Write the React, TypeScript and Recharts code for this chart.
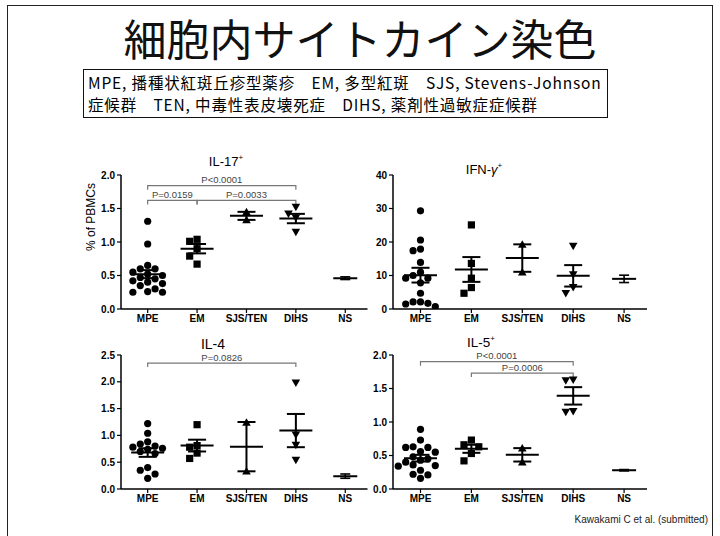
import React from 'react'
import { ScatterChart, Scatter, XAxis, YAxis, ErrorBar, ReferenceLine } from 'recharts'

const categories = ['MPE', 'EM', 'SJS/TEN', 'DIHS', 'NS']

// IL-17+ (% of PBMCs)
const il17MPE = [1.31, 0.97, 0.65, 0.6, 0.6, 0.55, 0.52, 0.5, 0.47, 0.45, 0.42, 0.4, 0.38, 0.35, 0.3, 0.26, 0.25, 0.25]
const il17EM = [1.04, 1.01, 0.9, 0.79, 0.67]
const il17SJS = [1.45, 1.33]
const il17DIHS = [1.52, 1.42, 1.36, 1.15]
const il17Mean = [0.52, 0.9, 1.39, 1.35, 0.46]
const il17Sem = [0.06, 0.07, 0.06, 0.07, 0.02]

// IFN-gamma+
const ifnMPE = [29.3, 20.6, 17.9, 17.4, 13.9, 11.0, 10.0, 9.2, 9.2, 7.8, 4.7, 2.1, 2.1, 1.7, 1.5, 0.7]
const ifnEM = [25.1, 13.6, 9.2, 6.4, 4.7]
const ifnSJS = [19.3, 11.0]
const ifnDIHS = [18.8, 10.3, 6.5, 4.7]
const ifnMean = [10.1, 11.8, 15.2, 9.9, 9.0]
const ifnSem = [2.2, 3.7, 4.1, 3.2, 1.1]

// IL-4
const il4MPE = [1.22, 1.04, 0.88, 0.84, 0.8, 0.78, 0.76, 0.74, 0.7, 0.66, 0.4, 0.35, 0.28, 0.2]
const il4EM = [1.2, 0.81, 0.78, 0.67, 0.57]
const il4SJS = [1.24, 0.33]
const il4DIHS = [1.98, 1.01, 0.82, 0.54]
const il4Mean = [0.68, 0.81, 0.79, 1.09, 0.24]
const il4Sem = [0.08, 0.11, 0.46, 0.31, 0.04]

// IL-5+
const il5MPE = [0.89, 0.73, 0.63, 0.62, 0.62, 0.56, 0.55, 0.48, 0.45, 0.43, 0.4, 0.36, 0.35, 0.34, 0.28, 0.22, 0.21, 0.16]
const il5EM = [0.73, 0.66, 0.63, 0.53, 0.42]
const il5SJS = [0.61, 0.4]
const il5DIHS = [1.63, 1.62, 1.16, 1.15]
const il5Mean = [0.46, 0.6, 0.51, 1.39, 0.28]
const il5Sem = [0.05, 0.06, 0.1, 0.13, 0.01]

const il17Brackets = [
  { from: 0, to: 3, y: 1.84, label: 'P<0.0001' },
  { from: 0, to: 1, y: 1.62, label: 'P=0.0159' },
  { from: 1, to: 3, y: 1.62, label: 'P=0.0033' },
]
const il4Brackets = [{ from: 0, to: 3, y: 2.35, label: 'P=0.0826' }]
const il5Brackets = [
  { from: 0, to: 3, y: 1.9, label: 'P<0.0001' },
  { from: 1, to: 3, y: 1.73, label: 'P=0.0006' },
]

const fracTicks2 = [0, 0.5, 1, 1.5, 2]
const fracTicks25 = [0, 0.5, 1, 1.5, 2, 2.5]
const ifnTicks = [0, 10, 20, 30, 40]

const ARIAL = '"Liberation Sans", Arial, sans-serif'
const JP = '"Noto Sans CJK JP", sans-serif'
const X_DOMAIN: [number, number] = [-0.54, 4.45]
const PLOT_H = 134

// simple Prism-like column scatter: spread points sideways when they would overlap
function swarm(values: number[], group: number, pxX: number, pxY: number, step = 7.4) {
  const placed: { dx: number; py: number }[] = []
  const out: { x: number; y: number }[] = []
  const sorted = [...values].sort((a, b) => b - a)
  for (const v of sorted) {
    const py = v * pxY
    for (let k = 0; k < 14; k++) {
      const slot = k === 0 ? 0 : (k % 2 ? -1 : 1) * Math.ceil(k / 2)
      const dx = slot * step
      if (placed.every((p) => Math.hypot(p.dx - dx, p.py - py) >= step)) {
        placed.push({ dx, py })
        out.push({ x: group + dx / pxX, y: v })
        break
      }
    }
  }
  return out
}

const Dot = (p: any) => <circle cx={p.cx} cy={p.cy} r={3.6} fill="#000" />
const Sq = (p: any) => <rect x={p.cx - 3.6} y={p.cy - 3.6} width={7.2} height={7.2} fill="#000" />
const TriUp = (p: any) => (
  <path d={`M${p.cx},${p.cy - 4.2}L${p.cx + 4.3},${p.cy + 3.3}L${p.cx - 4.3},${p.cy + 3.3}Z`} fill="#000" />
)
const TriDown = (p: any) => (
  <path d={`M${p.cx},${p.cy + 4.2}L${p.cx + 4.3},${p.cy - 3.3}L${p.cx - 4.3},${p.cy - 3.3}Z`} fill="#000" />
)
const shapes = [Dot, Sq, TriUp, TriDown]

const MeanLine = (p: any) => {
  const hw = p.payload.x === 4 ? 12 : 16.5
  return <line x1={p.cx - hw} x2={p.cx + hw} y1={p.cy} y2={p.cy} stroke="#000" strokeWidth={2} />
}

function bracketShape(label: string) {
  return (p: any) => {
    const { x1, x2, y1 } = p
    return (
      <g>
        <path d={`M${x1},${y1 + 4}V${y1}H${x2}V${y1 + 4}`} fill="none" stroke="#777" strokeWidth={1.2} />
        <text x={(x1 + x2) / 2} y={y1 - 2.5} textAnchor="middle" fontSize={9.5} fill="#444" fontFamily={ARIAL}>
          {label}
        </text>
      </g>
    )
  }
}

interface PanelProps {
  left: number
  top: number
  plotW: number
  groups: number[][]
  means: number[]
  sems: number[]
  yMax: number
  yTicks: number[]
  yFmt: (v: number) => string
  brackets?: { from: number; to: number; y: number; label: string }[]
}

function Panel({ left, top, plotW, groups, means, sems, yMax, yTicks, yFmt, brackets = [] }: PanelProps) {
  const pxX = plotW / (X_DOMAIN[1] - X_DOMAIN[0])
  const pxY = PLOT_H / yMax
  const summary = means.map((m, i) => ({ x: i, y: m, err: sems[i] }))
  const tickStyle = { fill: '#000', fontSize: 10, fontWeight: 'bold', fontFamily: ARIAL }
  return (
    <div style={{ position: 'absolute', left: left - 45, top: top - 20 }}>
      <ScatterChart width={45 + plotW + 10} height={20 + PLOT_H + 30} margin={{ top: 20, right: 10, bottom: 0, left: 5 }}>
        <XAxis
          type="number"
          dataKey="x"
          domain={X_DOMAIN}
          allowDataOverflow
          ticks={[0, 1, 2, 3, 4]}
          tickFormatter={(v: number) => categories[v]}
          height={30}
          tickSize={4}
          tickMargin={2}
          tick={tickStyle}
          axisLine={{ stroke: '#000', strokeWidth: 1.5 }}
          tickLine={{ stroke: '#000', strokeWidth: 1.2 }}
          interval={0}
        />
        <YAxis
          type="number"
          dataKey="y"
          domain={[0, yMax]}
          allowDataOverflow
          ticks={yTicks}
          tickFormatter={yFmt}
          width={40}
          tickSize={4}
          tickMargin={2}
          tick={tickStyle}
          axisLine={{ stroke: '#000', strokeWidth: 1.5 }}
          tickLine={{ stroke: '#000', strokeWidth: 1.2 }}
          interval={0}
        />
        {brackets.map((b) => (
          <ReferenceLine
            key={b.label + b.from}
            segment={[{ x: b.from, y: b.y }, { x: b.to, y: b.y }]}
            shape={bracketShape(b.label)}
          />
        ))}
        {groups.map((g, i) => (
          <Scatter key={i} data={swarm(g, i, pxX, pxY)} shape={shapes[i]} isAnimationActive={false} />
        ))}
        <Scatter data={summary.slice(0, 4)} shape={MeanLine} isAnimationActive={false}>
          <ErrorBar dataKey="err" direction="y" width={9} stroke="#000" strokeWidth={2} />
        </Scatter>
        <Scatter data={summary.slice(4)} shape={MeanLine} isAnimationActive={false}>
          <ErrorBar dataKey="err" direction="y" width={5} stroke="#000" strokeWidth={1.6} />
        </Scatter>
      </ScatterChart>
    </div>
  )
}

const frac = (v: number) => v.toFixed(1)
const whole = (v: number) => String(v)

function Title({ x, y, children, size = 13 }: { x: number; y: number; children: React.ReactNode; size?: number }) {
  return (
    <div
      style={{
        position: 'absolute',
        left: x - 60,
        top: y - 8,
        width: 120,
        textAlign: 'center',
        fontSize: size,
        lineHeight: '16px',
        fontFamily: ARIAL,
        color: '#000',
      }}
    >
      {children}
    </div>
  )
}

const sup = { fontSize: 8, verticalAlign: 6 as any }

export default function App() {
  return (
    <div style={{ position: 'absolute', left: 0, top: 0, width: 720, height: 536, overflow: 'hidden', background: '#fff' }}>
      <div style={{ position: 'absolute', left: 7, top: 5, width: 704, height: 600, border: '1.5px solid #222' }} />
      <div
        style={{
          position: 'absolute',
          left: 0,
          top: 16,
          width: 720,
          textAlign: 'center',
          fontFamily: JP,
          fontSize: 43,
          lineHeight: '43px',
          color: '#111',
        }}
      >
        細胞内サイトカイン染色
      </div>
      <div
        style={{
          position: 'absolute',
          left: 83,
          top: 69,
          width: 525,
          height: 49,
          border: '1.5px solid #111',
          fontFamily: JP,
          fontSize: 15.5,
          lineHeight: '22px',
          letterSpacing: 0.85,
          padding: '1px 0 0 4px',
          boxSizing: 'border-box',
          whiteSpace: 'pre',
          color: '#000',
        }}
      >
        <div>MPE, 播種状紅斑丘疹型薬疹　EM, 多型紅斑　SJS, Stevens-Johnson</div>
        <div>症候群　TEN, 中毒性表皮壊死症　DIHS, 薬剤性過敏症症候群</div>
      </div>

      <Title x={226} y={158}>
        IL-17<span style={sup}>+</span>
      </Title>
      <Title x={484} y={166}>
        IFN-<i>γ</i>
        <span style={sup}>+</span>
      </Title>
      <Title x={213} y={344} size={14}>
        IL-4
      </Title>
      <Title x={481} y={339} size={13.5}>
        IL-5<span style={sup}>+</span>
      </Title>

      <div
        style={{
          position: 'absolute',
          left: 91 - 50,
          top: 217 - 8,
          width: 100,
          height: 16,
          lineHeight: '16px',
          textAlign: 'center',
          fontSize: 12,
          fontFamily: ARIAL,
          transform: 'rotate(-90deg)',
        }}
      >
        % of PBMCs
      </div>

      <Panel
        left={121}
        top={175}
        plotW={246.5}
        groups={[il17MPE, il17EM, il17SJS, il17DIHS]}
        means={il17Mean}
        sems={il17Sem}
        yMax={2}
        yTicks={fracTicks2}
        yFmt={frac}
        brackets={il17Brackets}
      />
      <Panel
        left={393}
        top={175}
        plotW={254}
        groups={[ifnMPE, ifnEM, ifnSJS, ifnDIHS]}
        means={ifnMean}
        sems={ifnSem}
        yMax={40}
        yTicks={ifnTicks}
        yFmt={whole}
      />
      <Panel
        left={121}
        top={355}
        plotW={246.5}
        groups={[il4MPE, il4EM, il4SJS, il4DIHS]}
        means={il4Mean}
        sems={il4Sem}
        yMax={2.5}
        yTicks={fracTicks25}
        yFmt={frac}
        brackets={il4Brackets}
      />
      <Panel
        left={393}
        top={355}
        plotW={254}
        groups={[il5MPE, il5EM, il5SJS, il5DIHS]}
        means={il5Mean}
        sems={il5Sem}
        yMax={2}
        yTicks={fracTicks2}
        yFmt={frac}
        brackets={il5Brackets}
      />

      <div
        style={{
          position: 'absolute',
          right: 12,
          top: 514,
          fontSize: 10,
          fontFamily: ARIAL,
          color: '#222',
          whiteSpace: 'nowrap',
        }}
      >
        Kawakami C et al. (submitted)
      </div>
    </div>
  )
}
